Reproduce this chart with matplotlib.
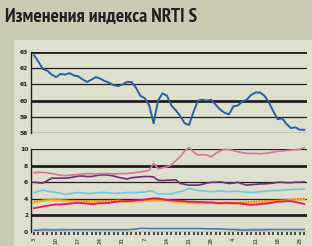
import matplotlib
matplotlib.use("Agg")
import matplotlib.pyplot as plt
from matplotlib import font_manager
from matplotlib.ft2font import FT2Font
from matplotlib.patches import Rectangle
import numpy as np

title = "Изменения индекса NRTI S"

# daily index values
nrti = [62.8, 62.4, 61.95, 61.85, 61.6, 61.45, 61.65, 61.6, 61.7, 61.55,
        61.5, 61.3, 61.15, 61.3, 61.45, 61.35, 61.2, 61.1, 60.95, 60.9,
        61.0, 61.15, 61.15, 60.8, 60.3, 60.15, 59.7, 58.6, 60.0, 60.45,
        60.3, 59.7, 59.4, 59.05, 58.6, 58.5, 59.3, 60.0, 60.05, 60.0,
        60.05, 59.75, 59.45, 59.25, 59.15, 59.65, 59.7, 59.95, 60.05, 60.35,
        60.5, 60.5, 60.3, 59.9, 59.35, 58.85, 58.9, 58.55, 58.3, 58.35,
        58.2, 58.2]

pink = [7.15, 7.2, 7.2, 7.15, 7.05, 6.95, 6.85, 6.8, 6.85, 6.9,
        6.95, 7.0, 7.05, 7.05, 7.0, 7.05, 7.05, 7.05, 7.0, 7.05,
        7.05, 7.05, 7.1, 7.2, 7.25, 7.35, 7.45, 8.3, 7.65, 7.75,
        7.9, 8.1, 8.6, 9.1, 9.8, 10.2, 9.7, 9.3, 9.35, 9.3,
        9.1, 9.5, 9.8, 10.0, 9.95, 9.85, 9.7, 9.6, 9.5, 9.5,
        9.5, 9.45, 9.5, 9.55, 9.65, 9.75, 9.8, 9.85, 9.9, 9.95,
        10.0, 10.2]

purple = [6.0, 5.95, 5.9, 6.2, 6.5, 6.5, 6.5, 6.5, 6.55, 6.65,
          6.75, 6.75, 6.7, 6.7, 6.8, 6.9, 6.9, 6.85, 6.75, 6.6,
          6.5, 6.4, 6.55, 6.6, 6.65, 6.7, 6.7, 6.65, 6.25, 6.2,
          6.25, 6.25, 6.3, 5.85, 5.75, 5.65, 5.65, 5.65, 5.75, 5.9,
          6.0, 6.0, 6.05, 5.95, 5.85, 5.9, 6.0, 5.8, 5.65, 5.7,
          5.75, 5.8, 5.8, 5.85, 5.9, 6.0, 6.0, 5.95, 5.95, 6.0,
          6.0, 6.05]

lightblue = [4.75, 4.9, 5.05, 4.95, 4.85, 4.75, 4.65, 4.55, 4.6, 4.7,
             4.75, 4.7, 4.65, 4.65, 4.7, 4.75, 4.75, 4.7, 4.65, 4.65,
             4.7, 4.75, 4.75, 4.75, 4.8, 4.8, 4.95, 4.9, 4.55, 4.55,
             4.6, 4.6, 4.75, 4.85, 5.05, 5.25, 5.1, 5.0, 4.95, 4.9,
             4.85, 4.9, 4.95, 4.9, 4.85, 4.9, 4.9, 4.85, 4.8, 4.75,
             4.8, 4.85, 4.9, 4.95, 5.0, 5.0, 5.05, 5.1, 5.1, 5.15,
             5.15, 5.2]

yellow = [3.55, 3.65, 3.75, 3.8, 3.85, 3.8, 3.8, 3.75, 3.7, 3.7,
          3.65, 3.65, 3.65, 3.65, 3.65, 3.65, 3.65, 3.7, 3.7, 3.75,
          3.7, 3.65, 3.65, 3.7, 3.7, 3.75, 3.75, 3.8, 3.8, 3.75,
          3.75, 3.7, 3.65, 3.6, 3.55, 3.5, 3.5, 3.45, 3.45, 3.5,
          3.5, 3.45, 3.45, 3.45, 3.45, 3.45, 3.45, 3.45, 3.5, 3.5,
          3.55, 3.6, 3.6, 3.65, 3.7, 3.7, 3.75, 3.8, 3.85, 3.9,
          3.95, 3.95]

orange = [3.65, 3.75, 3.85, 3.9, 3.95, 3.95, 3.9, 3.9, 3.85, 3.8,
          3.75, 3.75, 3.75, 3.75, 3.75, 3.75, 3.75, 3.8, 3.8, 3.85,
          3.8, 3.75, 3.75, 3.8, 3.8, 3.85, 3.85, 3.9, 3.9, 3.85,
          3.85, 3.8, 3.75, 3.7, 3.65, 3.6, 3.6, 3.55, 3.55, 3.6,
          3.6, 3.55, 3.55, 3.55, 3.55, 3.55, 3.55, 3.6, 3.6, 3.65,
          3.7, 3.75, 3.75, 3.8, 3.8, 3.85, 3.85, 3.9, 3.9, 3.95,
          4.0, 4.0]

crimson = [2.85, 2.95, 3.05, 3.15, 3.25, 3.3, 3.3, 3.35, 3.4, 3.45,
           3.5, 3.45, 3.4, 3.35, 3.4, 3.45, 3.45, 3.5, 3.6, 3.65,
           3.7, 3.7, 3.75, 3.8, 3.85, 3.9, 4.0, 4.05, 4.05, 3.95,
           3.85, 3.8, 3.8, 3.75, 3.7, 3.65, 3.65, 3.6, 3.6, 3.55,
           3.55, 3.5, 3.45, 3.5, 3.5, 3.45, 3.45, 3.4, 3.3, 3.25,
           3.3, 3.35, 3.4, 3.45, 3.55, 3.65, 3.65, 3.7, 3.7, 3.6,
           3.5, 3.35]

steel = [0.15, 0.15, 0.2, 0.2, 0.2, 0.2, 0.2, 0.2, 0.25, 0.25,
         0.25, 0.25, 0.25, 0.25, 0.25, 0.25, 0.25, 0.25, 0.25, 0.25,
         0.25, 0.25, 0.25, 0.3, 0.4, 0.4, 0.4, 0.4, 0.4, 0.4,
         0.4, 0.4, 0.4, 0.4, 0.4, 0.4, 0.4, 0.4, 0.4, 0.35,
         0.35, 0.35, 0.35, 0.3, 0.25, 0.25, 0.2, 0.2, 0.2, 0.2,
         0.2, 0.2, 0.2, 0.25, 0.25, 0.25, 0.25, 0.25, 0.25, 0.25,
         0.25, 0.25]

greyblue = [0.2, 0.25, 0.3, 0.3, 0.25, 0.25, 0.3, 0.3, 0.25, 0.25,
            0.25, 0.25, 0.25, 0.25, 0.25, 0.25, 0.25, 0.25, 0.25, 0.25,
            0.25, 0.25, 0.3, 0.35, 0.4, 0.4, 0.35, 0.35, 0.35, 0.35,
            0.35, 0.35, 0.35, 0.35, 0.35, 0.35, 0.35, 0.35, 0.35, 0.35,
            0.35, 0.3, 0.3, 0.3, 0.3, 0.3, 0.3, 0.25, 0.25, 0.3,
            0.3, 0.3, 0.3, 0.3, 0.3, 0.3, 0.3, 0.3, 0.3, 0.3,
            0.3, 0.3]

top_ticks = [58, 59, 60, 61, 62, 63]
top_thick = [60, 63]
bot_ticks = [0, 2, 4, 6, 8, 10]
bot_thick = [2, 8]
x_labels = ["3", "10", "17", "24", "31", "7", "14", "21", "28", "4", "11", "18", "25"]


def has_cyrillic(path):
    try:
        cm = FT2Font(path).get_charmap()
        return all(ord(c) in cm for c in "Измнеияд")
    except Exception:
        return False


# pick a narrow / condensed font with Cyrillic, bold preferred
narrow = None
cands = [f for f in font_manager.fontManager.ttflist
         if ("Narrow" in f.name or "Condensed" in f.name
             or f.stretch in ("condensed", "semi-condensed", "extra-condensed"))]
cands.sort(key=lambda f: (0 if f.weight in ("bold", 700) else 1,
                          0 if "Narrow" in f.name else 1))
for f in cands:
    if has_cyrillic(f.fname):
        narrow = f
        break

W, H = 312, 246
fig = plt.figure(figsize=(W / 100, H / 100), dpi=100)
fig.patch.set_facecolor("#c9ccb3")
fig.patches.append(Rectangle((14 / W, 0), 1 - 14 / W, 1 - 40 / H,
                             transform=fig.transFigure, facecolor="#dddfcf",
                             edgecolor="none", zorder=-5))

if narrow is not None:
    fp = font_manager.FontProperties(fname=narrow.fname, size=14.0)
    fig.text(5 / W, 1 - 21.5 / H, title, fontproperties=fp, color="#231f20",
             va="baseline", ha="left")
else:
    fig.text(5 / W, 1 - 21.5 / H, title, fontsize=10.2, fontweight="bold",
             family="DejaVu Sans", color="#231f20",
             va="baseline", ha="left")

x = np.arange(len(nrti))
left = 31 / W
right = 306.7 / W
xl = (-0.68, 61.55)

ax1 = fig.add_axes([left, 1 - 133 / H, right - left, (133 - 52) / H])
ax2 = fig.add_axes([left, 1 - 231.7 / H, right - left, (231.7 - 149.3) / H])

dark = "#231f20"
for ax, ticks, thick in ((ax1, top_ticks, top_thick), (ax2, bot_ticks, bot_thick)):
    ax.set_zorder(5)
    ax.set_facecolor("none")
    for s in ("top", "right", "bottom"):
        ax.spines[s].set_visible(False)
    ax.spines["left"].set_color(dark)
    ax.spines["left"].set_linewidth(1.0)
    for t in ticks:
        ax.axhline(t, color=dark, lw=2.0 if t in thick else 0.9, zorder=1)
    ax.set_yticks(ticks)
    ax.set_yticklabels([str(t) for t in ticks], fontsize=4.3, fontweight="bold",
                       color="#2a1e2a")
    ax.tick_params(axis="y", length=0, pad=2)
    ax.set_xlim(*xl)

ax1.set_ylim(58, 63)
ax1.set_xticks([])
ax1.plot(x, nrti, color="#2d5f9e", lw=1.4, zorder=3, clip_on=False)

ax2.set_ylim(0, 10)
ax2.plot(x, greyblue, color="#8ea3b6", lw=1.1, zorder=3)
ax2.plot(x, steel, color="#3f74b0", lw=0.9, zorder=3)
ax2.plot(x, lightblue, color="#72c8dc", lw=1.2, zorder=3)
ax2.plot(x, purple, color="#6e2f72", lw=1.2, zorder=3)
ax2.plot(x, pink, color="#d9749a", lw=1.2, zorder=3, clip_on=False)
ax2.plot(x, yellow, color="#f6b51c", lw=1.7, zorder=3)
ax2.plot(x, orange, color="#ee5a24", lw=0.9, ls=(0, (1, 1.2)), zorder=4)
ax2.plot(x, crimson, color="#e81560", lw=1.3, zorder=4)

ax2.set_xticks(np.arange(0, 61, 5))
ax2.set_xticks(np.arange(0, 62, 1), minor=True)
ax2.set_xticklabels(x_labels, rotation=90, fontsize=3.6, color="#6b5a6b",
                    fontweight="bold")
ax2.tick_params(axis="x", which="both", direction="out", length=2.5, width=1.1,
                color=dark, pad=1.5)

fig.savefig("out.png", dpi=100, facecolor=fig.get_facecolor())
